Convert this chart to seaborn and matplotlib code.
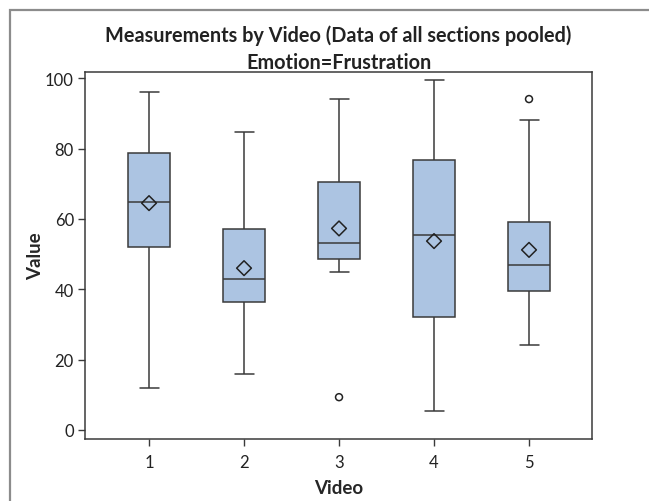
import numpy as np
import pandas as pd
import matplotlib
matplotlib.use("Agg")
import matplotlib.pyplot as plt
from matplotlib.patches import Rectangle
import seaborn as sns

# ---- data ----
videos = ["1", "2", "3", "4", "5"]
whisker_low = [12.0, 15.8, 45.0, 5.4, 24.0]
q1 = [51.9, 36.4, 48.7, 32.2, 39.6]
median = [64.8, 42.9, 53.1, 55.4, 46.9]
q3 = [78.8, 57.0, 70.4, 76.8, 59.1]
whisker_high = [96.2, 84.7, 94.2, 99.6, 88.2]
means = [64.5, 46.0, 57.3, 53.7, 51.2]
outlier_video = ["3", "5"]
outlier_value = [9.3, 94.1]

title = "Measurements by Video (Data of all sections pooled)\nEmotion=Frustration"
xlabel = "Video"
ylabel = "Value"
yticks = [0, 20, 40, 60, 80, 100]

# five-number summaries as long data (percentiles reproduce them exactly)
rows = []
for v, a, b, c, d, e in zip(videos, whisker_low, q1, median, q3, whisker_high):
    for val in (a, b, c, d, e):
        rows.append({"Video": v, "Value": val})
df = pd.DataFrame(rows)
df_mean = pd.DataFrame({"Video": videos, "Value": means})
df_out = pd.DataFrame({"Video": outlier_video, "Value": outlier_value})

sns.set_theme(style="white")
plt.rcParams["font.family"] = ["Lato", "DejaVu Sans"]

fig = plt.figure(figsize=(6.49, 5.02), dpi=100)
ax = fig.add_axes([85 / 649, 1 - 440 / 502, (592 - 85) / 649, (440 - 73) / 502])

edge = "#3a3a3a"
sns.boxplot(data=df, x="Video", y="Value", order=videos, ax=ax,
            whis=(0, 100), width=0.44, color="#ACC4E2", saturation=1,
            linecolor=edge, linewidth=1.1, showfliers=False,
            capwidths=0.2)

sns.stripplot(data=df_mean, x="Video", y="Value", order=videos, ax=ax,
              jitter=False, marker="D", size=7.5, color="#222222")
sns.stripplot(data=df_out, x="Video", y="Value", order=videos, ax=ax,
              jitter=False, marker="o", size=5, color="#222222")
# make markers hollow
for coll in ax.collections:
    coll.set_facecolor("none")
    coll.set_edgecolor("#222222")
    coll.set_linewidth(1.1)

ax.set_xlim(-0.674, 4.663)
ax.set_ylim(-2.6, 101.8)
ax.set_yticks(yticks)
ax.set_xlabel(xlabel, fontsize=13.5, fontweight="bold", labelpad=6)
ax.set_ylabel(ylabel, fontsize=13.5, fontweight="bold", labelpad=1)
ax.set_title(title, fontsize=14.3, fontweight="bold", pad=3, linespacing=1.4,
             color="#222222")
ax.tick_params(axis="x", pad=6)
ax.tick_params(axis="both", which="both", length=5, width=1, color=edge,
               labelsize=12, labelcolor="#222222", direction="out",
               bottom=True, left=True)
ax.tick_params(axis="y", pad=3)
for s in ax.spines.values():
    s.set_color(edge)
    s.set_linewidth(1.1)

# outer frame of the figure
fig.patches.append(Rectangle((10 / 649, -0.1), 1.2, 1 - 10.5 / 502 + 0.1,
                             transform=fig.transFigure, fill=False,
                             edgecolor="#8c8c8c", linewidth=1.6))

fig.savefig("out.png", dpi=100)
